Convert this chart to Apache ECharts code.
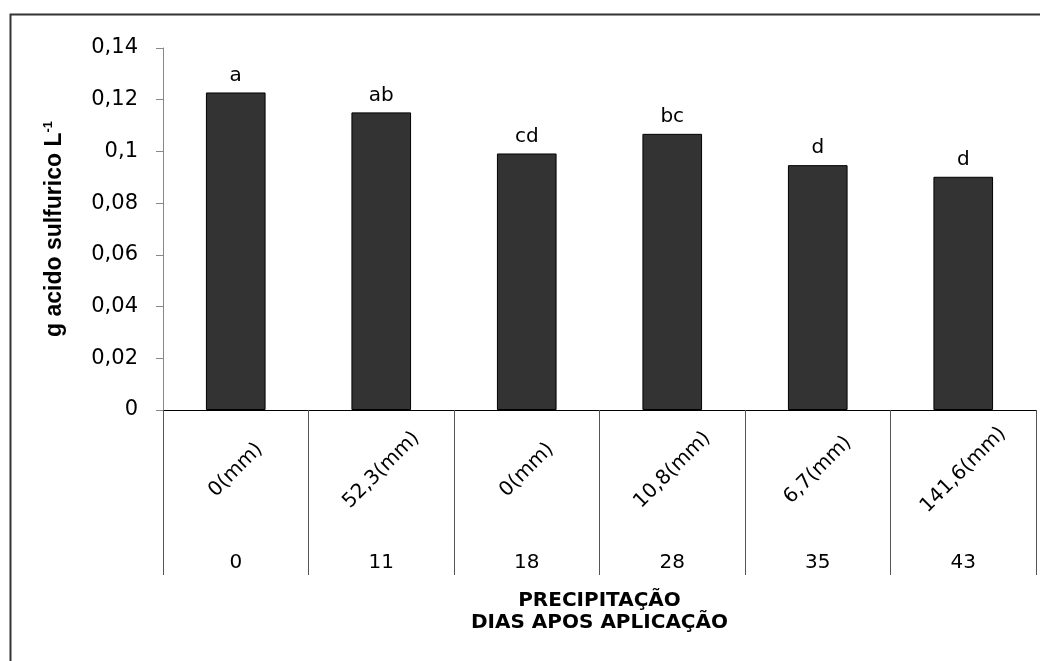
<!DOCTYPE html>
<html>
<head>
<meta charset="utf-8">
<script src="https://cdn.jsdelivr.net/npm/echarts@6/dist/echarts.min.js"></script>
<style>
html,body{margin:0;padding:0;background:#fff;}
#c{width:1040px;height:661px;}
</style>
</head>
<body>
<div id="c"></div>
<script>
const days = ['0', '11', '18', '28', '35', '43'];
const precipitation = ['0(mm)', '52,3(mm)', '0(mm)', '10,8(mm)', '6,7(mm)', '141,6(mm)'];
const values = [0.1228, 0.1151, 0.0992, 0.1068, 0.0947, 0.0902];
const letters = ['a', 'ab', 'cd', 'bc', 'd', 'd'];
const yTicks = { min: 0, max: 0.14, interval: 0.02 };

const WIDE = '"DejaVu Sans", Verdana, sans-serif';
const ARIAL = '"Liberation Sans", Arial, sans-serif';
const chart = echarts.init(document.getElementById('c'));
chart.setOption({
  backgroundColor: '#fff',
  animation: false,
  textStyle: { fontFamily: WIDE },
  graphic: [{
    type: 'rect',
    left: 8, top: 12,
    shape: { width: 1100, height: 1000 },
    style: { fill: 'none', stroke: '#333', lineWidth: 2 },
    silent: true
  }],
  grid: { left: 163, right: 4, top: 48, bottom: 251, containLabel: false },
  xAxis: [{
    type: 'category',
    position: 'bottom',
    data: days,
    axisLine: { show: true, lineStyle: { color: '#000', width: 1 } },
    axisTick: { show: true, length: 165, interval: 0, alignWithLabel: false, lineStyle: { color: '#555', width: 1 } },
    axisLabel: { interval: 0, margin: 143, fontSize: 20, color: '#000', fontFamily: WIDE },
    splitLine: { show: false },
    name: 'PRECIPITAÇÃO\nDIAS APOS APLICAÇÃO',
    nameLocation: 'middle',
    nameGap: 180,
    nameTextStyle: { fontSize: 20, fontWeight: 'bold', color: '#000', lineHeight: 22, fontFamily: WIDE }
  }, {
    type: 'category',
    position: 'bottom',
    data: precipitation,
    axisLine: { show: false },
    axisTick: { show: false },
    axisLabel: { interval: 0, rotate: 45, margin: 60, align: 'center', verticalAlign: 'middle', fontSize: 20, color: '#000', fontFamily: WIDE },
    splitLine: { show: false }
  }],
  yAxis: {
    type: 'value',
    min: yTicks.min, max: yTicks.max, interval: yTicks.interval,
    axisLine: { show: true, lineStyle: { color: '#888', width: 1 } },
    axisTick: { show: true, length: 7, lineStyle: { color: '#888' } },
    splitLine: { show: false },
    axisLabel: {
      margin: 25, fontSize: 21, color: '#000', fontFamily: WIDE,
      formatter: v => parseFloat(v.toFixed(2)).toString().replace('.', ',')
    },
    name: '{a|g acido sulfurico L}{b|-1}',
    nameLocation: 'middle',
    nameGap: 96,
    nameRotate: 90,
    nameTextStyle: {
      rich: {
        a: { fontSize: 23, fontWeight: 'bold', color: '#000', fontFamily: ARIAL },
        b: { fontSize: 13, fontWeight: 'bold', color: '#000', fontFamily: ARIAL, verticalAlign: 'top', padding: [0, 0, 12, 0] }
      }
    }
  },
  series: [{
    type: 'bar',
    xAxisIndex: 0,
    data: values,
    barWidth: '41%',
    itemStyle: { color: '#333333', borderColor: '#000', borderWidth: 1 },
    label: {
      show: true, position: 'top', distance: 7,
      fontSize: 20, color: '#000', fontFamily: WIDE,
      formatter: p => letters[p.dataIndex]
    }
  }]
});
</script>
</body>
</html>
